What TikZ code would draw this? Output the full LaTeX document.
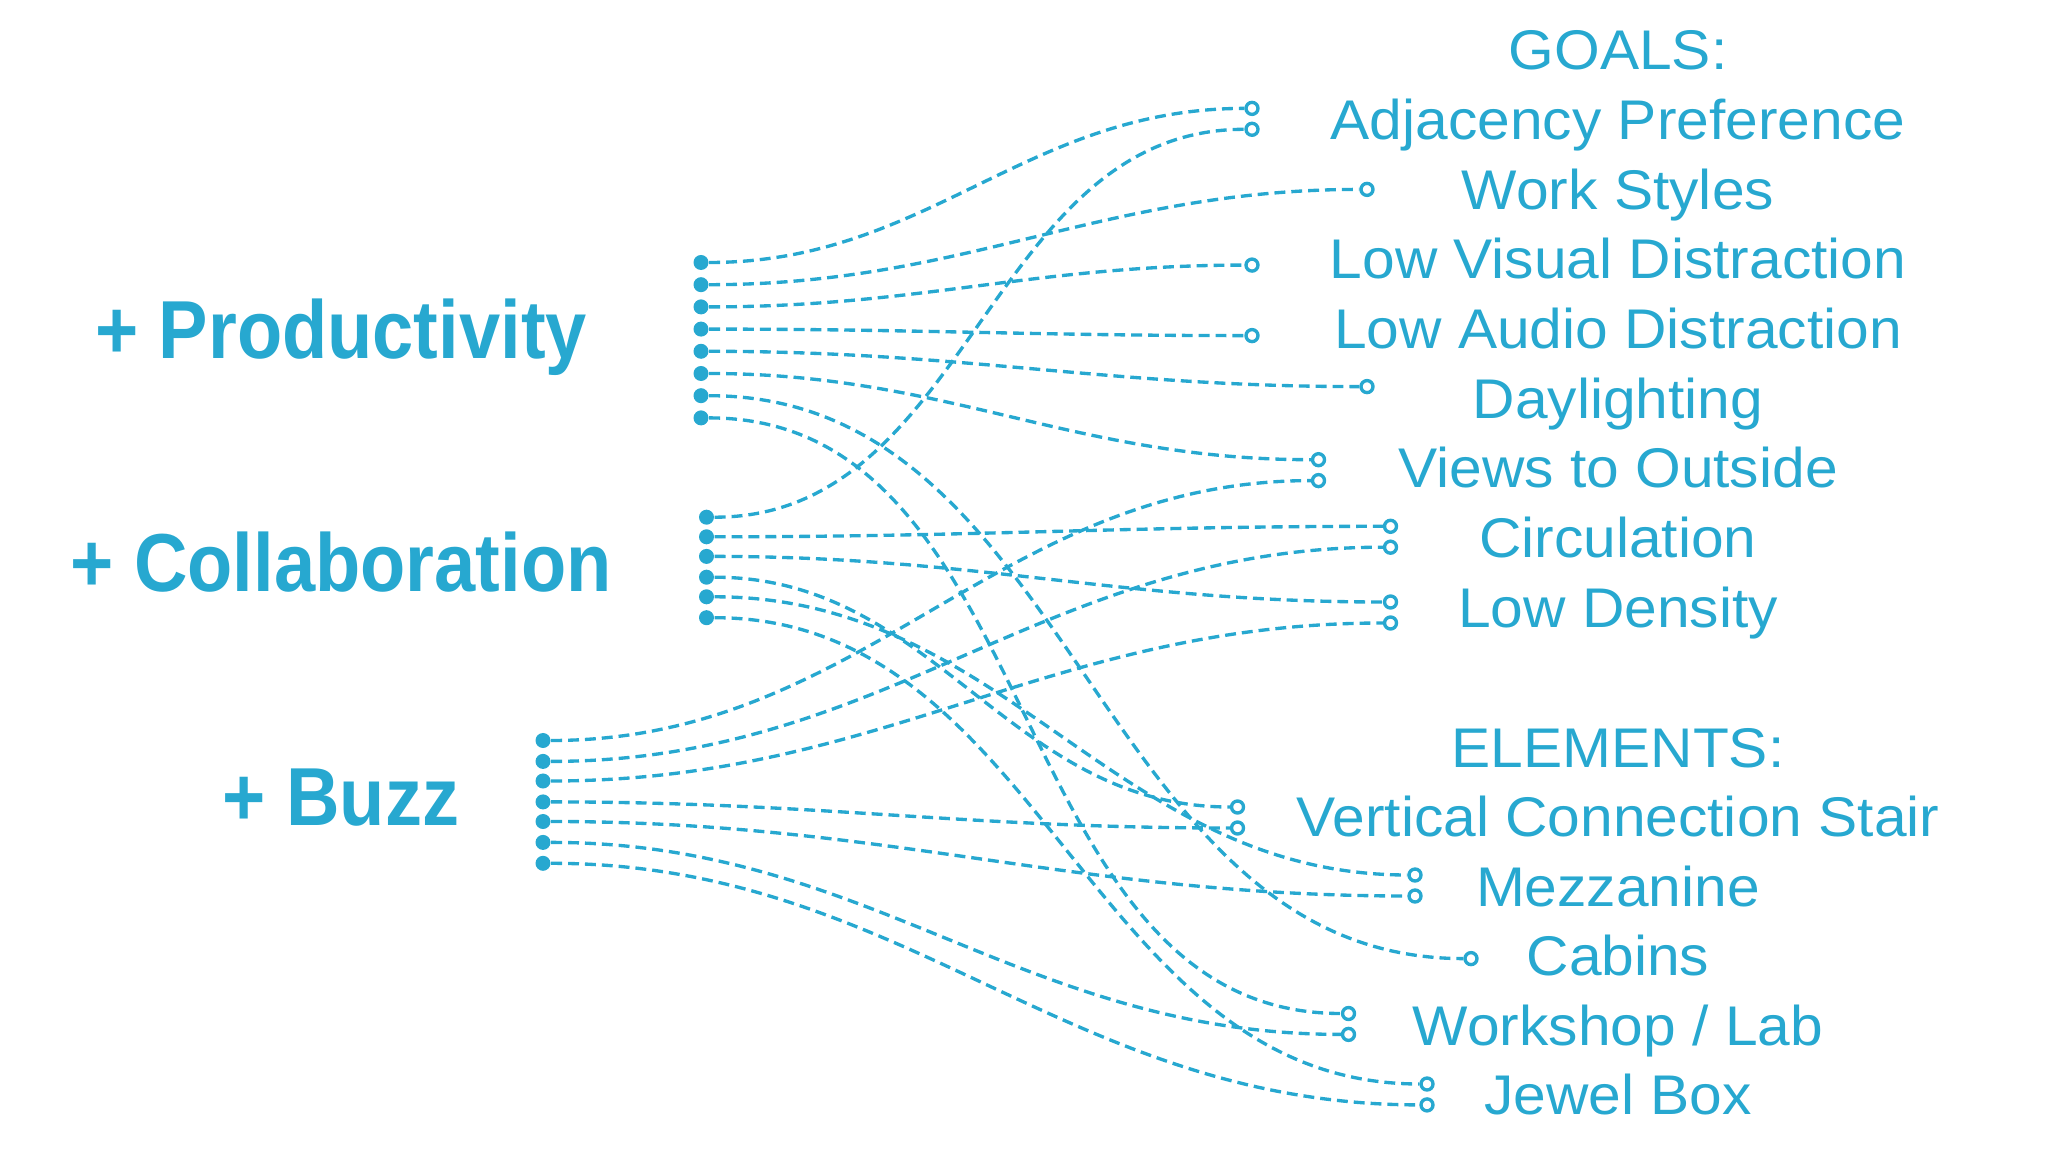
\documentclass[tikz,border=0pt]{standalone}
\usepackage{fontspec}
\setmainfont{Liberation Sans}
\newfontfamily\goalfont[FakeStretch=1.05]{Liberation Sans}
\newfontfamily\headfont[FakeStretch=0.9]{Liberation Sans}
\usepackage{tikz}
\usetikzlibrary{positioning}
\definecolor{planblue}{HTML}{27A8D0}

\tikzset{
  dot/.style={circle, fill=planblue, inner sep=0pt, minimum size=0.15cm},
  ring/.style={circle, draw=planblue, fill=white, line width=0.95pt, inner sep=0pt, minimum size=0.12cm},
  link/.style={draw=planblue, line width=0.95pt, dash pattern=on 3.1pt off 1.7pt},
  aim/.style={anchor=base, text=planblue, inner sep=0pt, font=\goalfont\fontsize{15.9}{19}\selectfont},
  head/.style={anchor=base, text=planblue, inner sep=0pt, font=\headfont\bfseries\fontsize{23.4}{28}\selectfont}
}

\begin{document}
\begin{tikzpicture}[x=0.01cm, y=-0.01cm]
      \useasboundingbox (0,0) rectangle (2048,1152);

      % headings on the left
      \node[head] (prod) at (341,359) {+ Productivity};
      \node[head] (coll) at (341,592) {+ Collaboration};
      \node[head] (buzz) at (341,825) {+ Buzz};

      % goals and elements on the right
      \node[aim] (goals) at (1618,70) {GOALS:};
      \node[aim] (tadj) at (1618,139.7) {Adjacency Preference};
      \node[aim] (twork) at (1618,209.4) {Work Styles};
      \node[aim] (tvis) at (1618,279) {Low Visual Distraction};
      \node[aim] (taud) at (1618,348.8) {Low Audio Distraction};
      \node[aim] (tday) at (1618,418.5) {Daylighting};
      \node[aim] (tview) at (1618,488) {Views to Outside};
      \node[aim] (tcirc) at (1618,557.8) {Circulation};
      \node[aim] (tden) at (1618,627.5) {Low Density};
      \node[aim] (elems) at (1618,767) {ELEMENTS:};
      \node[aim] (tvcs) at (1618,836.5) {Vertical Connection Stair};
      \node[aim] (tmez) at (1618,906) {Mezzanine};
      \node[aim] (tcab) at (1618,975.5) {Cabins};
      \node[aim] (twsh) at (1618,1045) {Workshop / Lab};
      \node[aim] (tjew) at (1618,1114.5) {Jewel Box};

      % start dots
      \node[dot] (p1) at (701,262.5) {};
      \node[dot] (p2) at (701,284.7) {};
      \node[dot] (p3) at (701,306.9) {};
      \node[dot] (p4) at (701,329.1) {};
      \node[dot] (p5) at (701,351.3) {};
      \node[dot] (p6) at (701,373.5) {};
      \node[dot] (p7) at (701,395.7) {};
      \node[dot] (p8) at (701,417.9) {};

      \node[dot] (c1) at (706.5,517.2) {};
      \node[dot] (c2) at (706.5,536.8) {};
      \node[dot] (c3) at (706.5,556.4) {};
      \node[dot] (c4) at (706.5,577.2) {};
      \node[dot] (c5) at (706.5,596.8) {};
      \node[dot] (c6) at (706.5,617.7) {};

      \node[dot] (b1) at (543,740.5) {};
      \node[dot] (b2) at (543,761.4) {};
      \node[dot] (b3) at (543,781) {};
      \node[dot] (b4) at (543,801.9) {};
      \node[dot] (b5) at (543,821.5) {};
      \node[dot] (b6) at (543,842.4) {};
      \node[dot] (b7) at (543,863.3) {};

      % end rings
      \node[ring] (adj1) at (1252,108.4) {};
      \node[ring] (adj2) at (1252,129.3) {};
      \node[ring] (work) at (1367,189.4) {};
      \node[ring] (vis) at (1252,265.1) {};
      \node[ring] (aud) at (1252,335.6) {};
      \node[ring] (day) at (1367,386.6) {};
      \node[ring] (view1) at (1318.5,459.7) {};
      \node[ring] (view2) at (1318.5,480.6) {};
      \node[ring] (circ1) at (1390.5,526.3) {};
      \node[ring] (circ2) at (1390.5,547.2) {};
      \node[ring] (den1) at (1390.5,602) {};
      \node[ring] (den2) at (1390.5,623) {};

      \node[ring] (vcs1) at (1237.5,807) {};
      \node[ring] (vcs2) at (1237.5,828) {};
      \node[ring] (mez1) at (1415,875) {};
      \node[ring] (mez2) at (1415,896) {};
      \node[ring] (cab) at (1471,958.6) {};
      \node[ring] (wsh1) at (1348.5,1013.5) {};
      \node[ring] (wsh2) at (1348.5,1034.4) {};
      \node[ring] (jew1) at (1427,1084) {};
      \node[ring] (jew2) at (1427,1104.9) {};

      % productivity
      \draw[link] (p1) to[out=0,in=180] (adj1);
      \draw[link] (p2) to[out=0,in=180] (work);
      \draw[link] (p3) to[out=0,in=180] (vis);
      \draw[link] (p4) to[out=0,in=180] (aud);
      \draw[link] (p5) to[out=0,in=180] (day);
      \draw[link] (p6) to[out=0,in=180] (view1);
      \draw[link] (p7) to[out=0,in=180] (cab);
      \draw[link] (p8) to[out=0,in=180] (wsh1);

      % collaboration
      \draw[link] (c1) to[out=0,in=180] (adj2);
      \draw[link] (c2) to[out=0,in=180] (circ1);
      \draw[link] (c3) to[out=0,in=180] (den1);
      \draw[link] (c4) to[out=0,in=180] (vcs1);
      \draw[link] (c5) to[out=0,in=180] (mez1);
      \draw[link] (c6) to[out=0,in=180] (jew1);

      % buzz
      \draw[link] (b1) to[out=0,in=180] (view2);
      \draw[link] (b2) to[out=0,in=180] (circ2);
      \draw[link] (b3) to[out=0,in=180] (den2);
      \draw[link] (b4) to[out=0,in=180] (vcs2);
      \draw[link] (b5) to[out=0,in=180] (mez2);
      \draw[link] (b6) to[out=0,in=180] (wsh2);
      \draw[link] (b7) to[out=0,in=180] (jew2);
    \end{tikzpicture}
\end{document}
